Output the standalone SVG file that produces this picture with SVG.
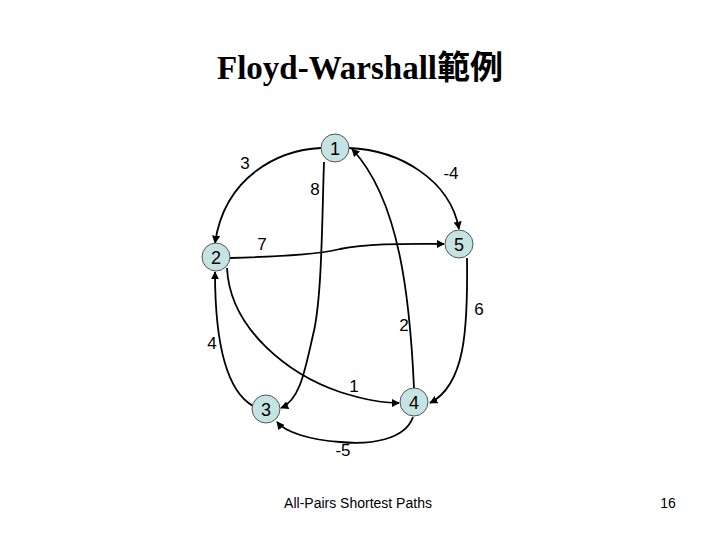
<svg xmlns="http://www.w3.org/2000/svg" width="720" height="540" viewBox="0 0 720 540">
<style>
.node circle{fill:#c6e3e3;stroke:#555;stroke-width:1}
.node text{font-family:"Liberation Sans",Arial,sans-serif;font-size:18px;text-anchor:middle;fill:#000}
.edge{fill:none;stroke:#000;stroke-width:1.8;marker-end:url(#arr)}
.lbl{font-family:"Liberation Sans",Arial,sans-serif;font-size:17px;text-anchor:middle;fill:#000}
</style>
<defs>
<marker id="arr" viewBox="0 0 10 10" refX="9" refY="5" markerWidth="4.5" markerHeight="4.5" orient="auto" markerUnits="strokeWidth">
<path d="M0,0 L10,5 L0,10 z" fill="#000"/>
</marker>
</defs>
<rect width="720" height="540" fill="#fff"/>
<text x="360" y="79" text-anchor="middle" font-family="'Liberation Serif','Times New Roman','Noto Sans CJK TC',serif" font-size="33" font-weight="bold">Floyd-Warshall範例</text>
<g id="connectors">
<path id="e12" class="edge" d="M321,148 C280,150 225,175 215,243"/>
<path id="e15" class="edge" d="M349,148 C400,150 450,180 459,229"/>
<path id="e13" class="edge" d="M324,162 C322,220 322,300 313,335 C305,370 300,400 281,408"/>
<path id="e25" class="edge" d="M230,258 C290,256 320,254 340,249 C370,243 410,244 444,244"/>
<path id="e24" class="edge" d="M227,268 C230,330 290,375 340,392 C365,400 385,403 399,403"/>
<path id="e32" class="edge" d="M253,406 C225,390 215,340 215,272"/>
<path id="e54" class="edge" d="M467,258 C468,330 465,385 430,403"/>
<path id="e43" class="edge" d="M413,417 C405,440 370,445 340,442 C310,440 285,432 277,422"/>
<path id="e41" class="edge" d="M414,388 C410,300 400,200 352,149"/>
</g>
<g id="labels">
<text class="lbl" x="245" y="169">3</text>
<text class="lbl" x="451" y="179">-4</text>
<text class="lbl" x="315" y="195">8</text>
<text class="lbl" x="262" y="250">7</text>
<text class="lbl" x="404" y="331">2</text>
<text class="lbl" x="212" y="349">4</text>
<text class="lbl" x="479" y="315">6</text>
<text class="lbl" x="354" y="392">1</text>
<text class="lbl" x="343" y="456">-5</text>
</g>
<g id="node1" class="node"><circle cx="335" cy="148" r="14"/><text x="335" y="154.5">1</text></g>
<g id="node2" class="node"><circle cx="216" cy="257" r="14"/><text x="216" y="263.5">2</text></g>
<g id="node3" class="node"><circle cx="266" cy="409" r="14"/><text x="266" y="415.5">3</text></g>
<g id="node4" class="node"><circle cx="414" cy="402" r="14"/><text x="414" y="408.5">4</text></g>
<g id="node5" class="node"><circle cx="459" cy="244" r="14"/><text x="459" y="250.5">5</text></g>
<text x="358" y="508" text-anchor="middle" font-family="'Liberation Sans',Arial,sans-serif" font-size="14">All-Pairs Shortest Paths</text>
<text x="668" y="508" text-anchor="middle" font-family="'Liberation Sans',Arial,sans-serif" font-size="14">16</text>
</svg>
